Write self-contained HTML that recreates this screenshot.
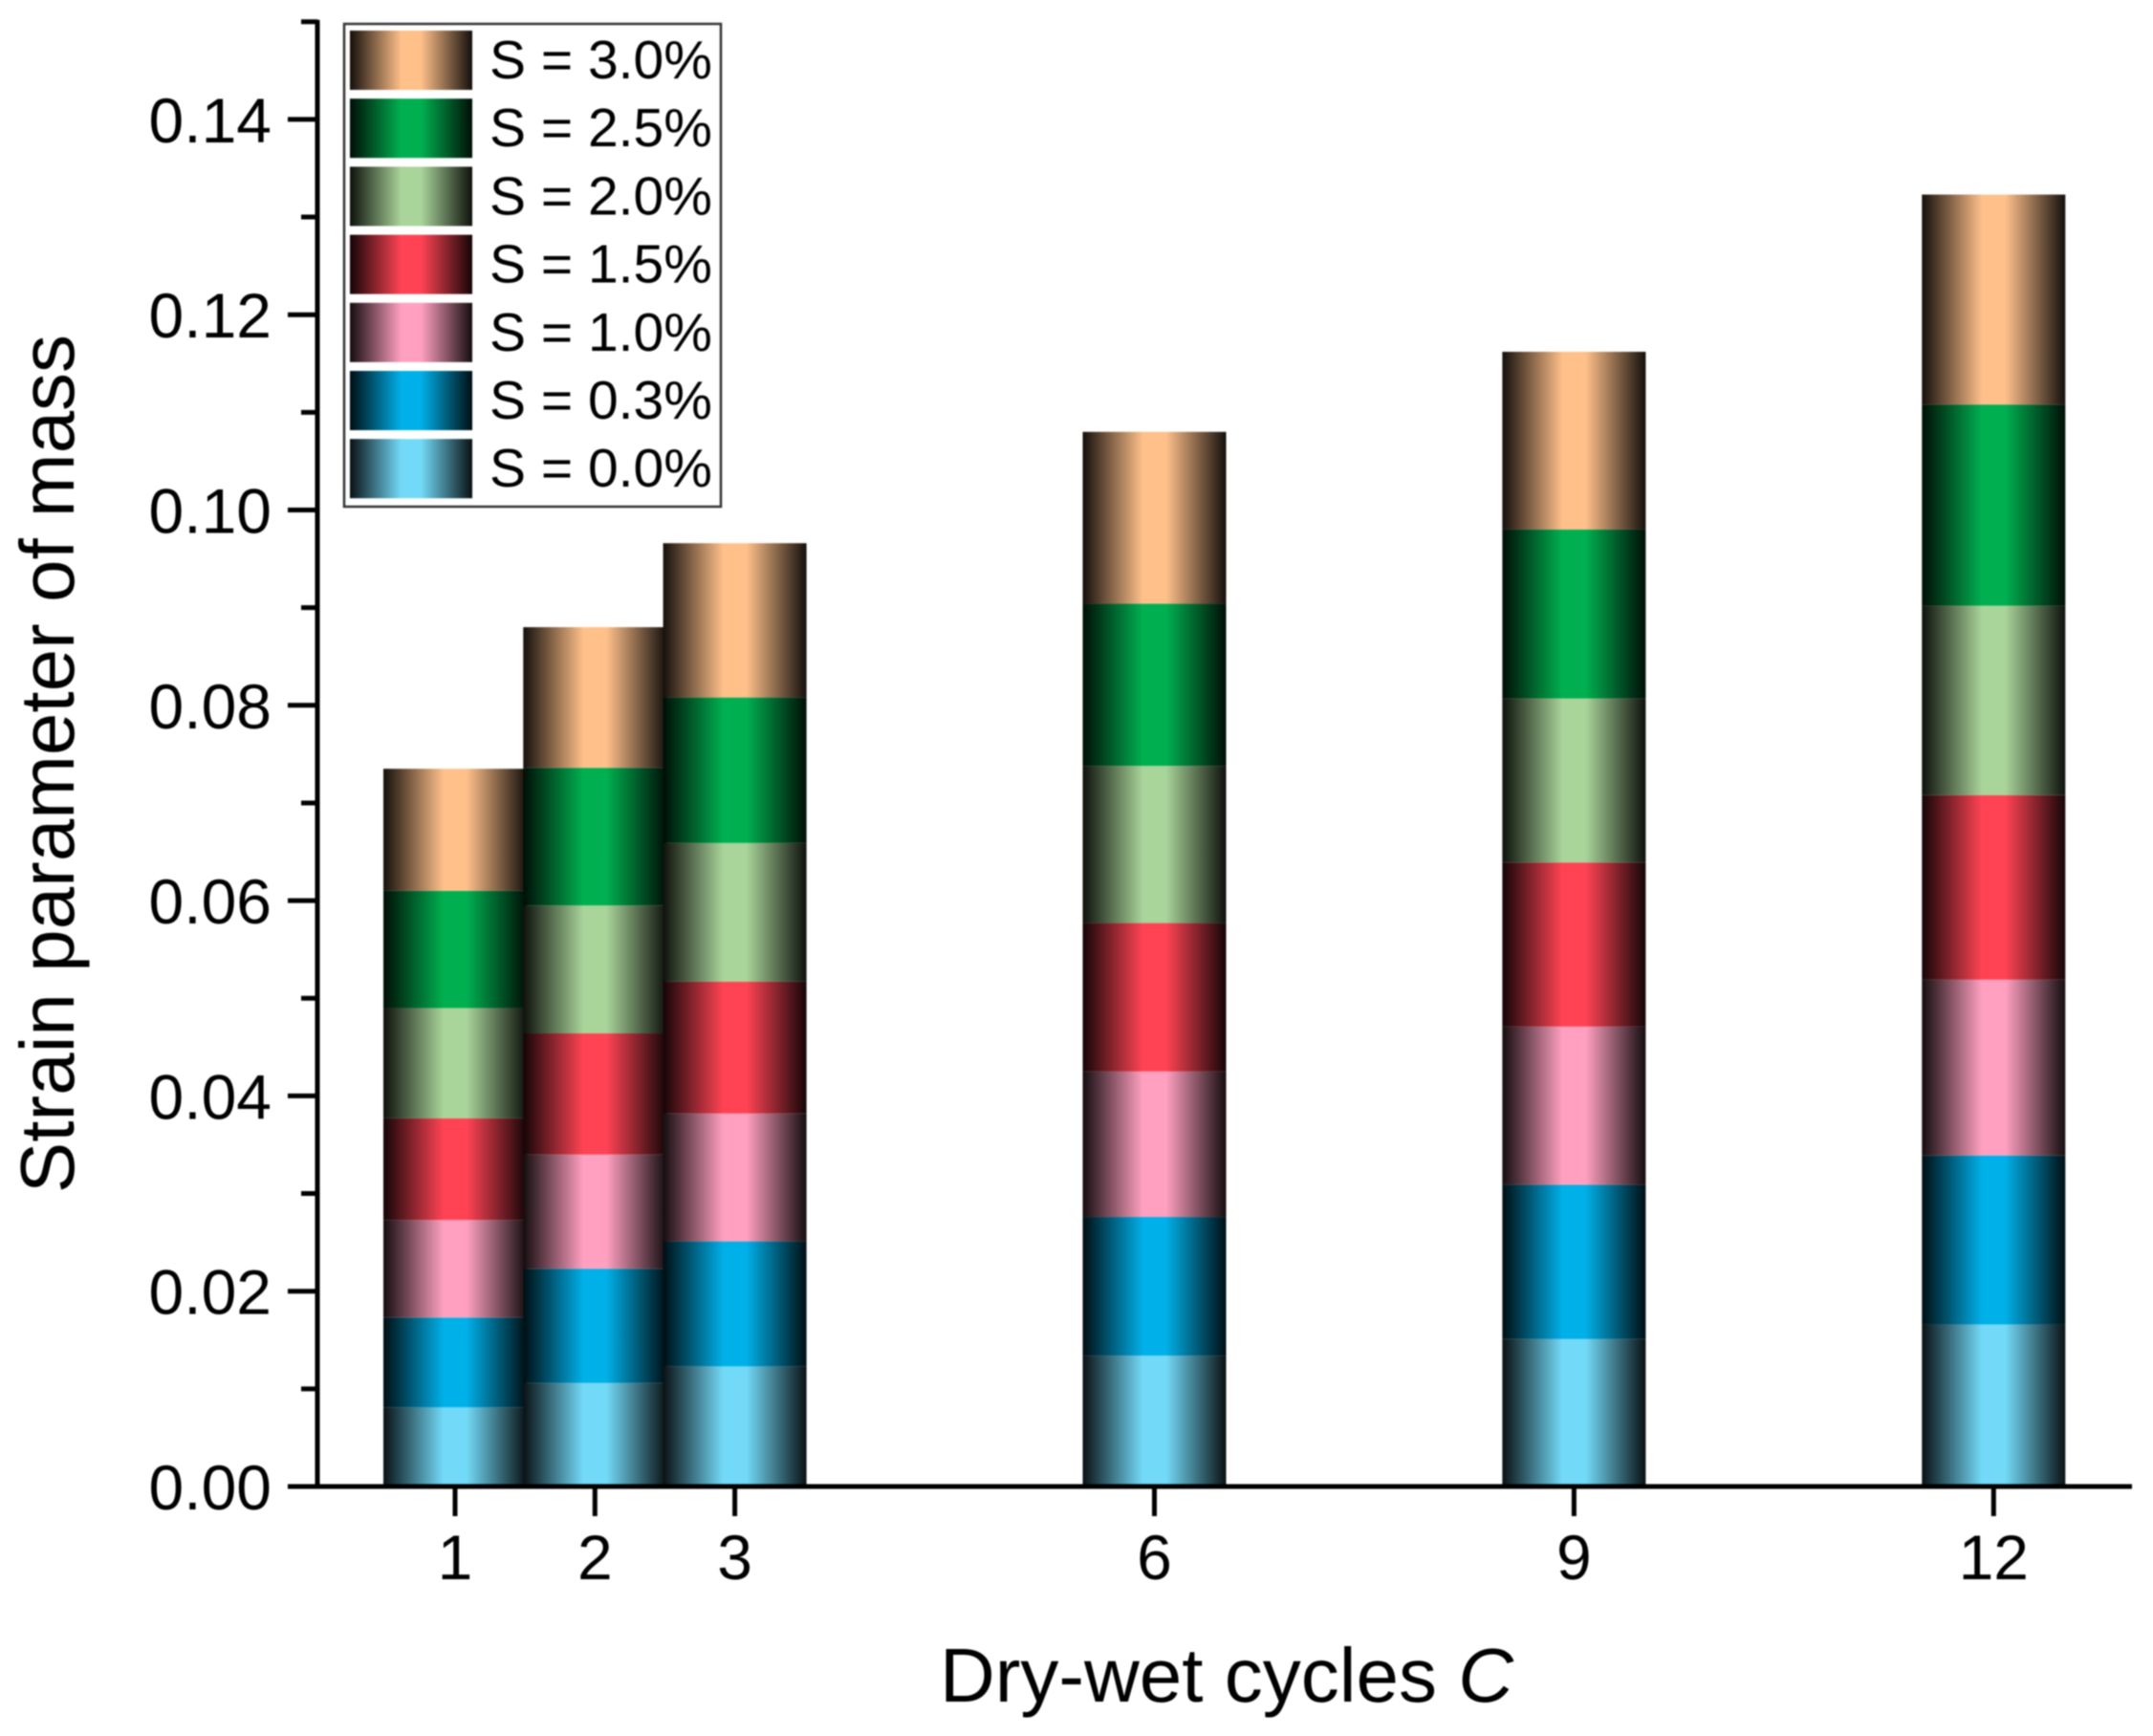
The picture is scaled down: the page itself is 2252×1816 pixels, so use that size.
<!DOCTYPE html>
<html lang="en">
<head>
<meta charset="utf-8">
<title>Strain parameter of mass vs dry-wet cycles</title>
<style>
html,body{margin:0;padding:0;background:#fff;width:2252px;height:1816px;overflow:hidden}
svg{display:block;filter:blur(0.8px)}
text{font-family:"Liberation Sans",sans-serif;fill:#000}
</style>
</head>
<body>
<svg id="chart" xmlns="http://www.w3.org/2000/svg" width="2252" height="1816" viewBox="0 0 2252 1816">
  <defs id="defs"></defs>
  <g id="bars"></g>
  <g id="axes"></g>
  <text transform="translate(77 799) rotate(-90)" text-anchor="middle" font-size="80">Strain parameter of mass</text>
  <text x="1283" y="1780" text-anchor="middle" font-size="80">Dry-wet cycles <tspan font-style="italic">C</tspan></text>
  <g id="legend"></g>
</svg>
<script>
const cycles = [1, 2, 3, 6, 9, 12];
const yTickLabels = ["0.00", "0.02", "0.04", "0.06", "0.08", "0.10", "0.12", "0.14"];
const seriesNames = ["S = 0.0%", "S = 0.3%", "S = 1.0%", "S = 1.5%", "S = 2.0%", "S = 2.5%", "S = 3.0%"];
const s00 = [0.0081, 0.0106, 0.0123, 0.0134, 0.0151, 0.0166];
const s03 = [0.0092, 0.0117, 0.0128, 0.0142, 0.0158, 0.0173];
const s10 = [0.0100, 0.0117, 0.0131, 0.0149, 0.0162, 0.0180];
const s15 = [0.0104, 0.0124, 0.0135, 0.0152, 0.0168, 0.0189];
const s20 = [0.0113, 0.0131, 0.0142, 0.0161, 0.0168, 0.0194];
const s25 = [0.0120, 0.0141, 0.0149, 0.0166, 0.0173, 0.0206];
const s30 = [0.0125, 0.0144, 0.0158, 0.0176, 0.0182, 0.0215];
const seriesValues = [s00, s03, s10, s15, s20, s25, s30];

const palette = [[114,218,248],[0,176,232],[255,160,192],[255,67,84],[169,212,154],[0,176,80],[255,192,138]];
const NS = "http://www.w3.org/2000/svg";
const xScale = c => 476 + (c - 1) * 146.3;
const yScale = v => 1555 - v * (204.3 / 0.02);
const barWidth = 150;

function make(tag, attrs, parent) {
  const el = document.createElementNS(NS, tag);
  for (const k in attrs) el.setAttribute(k, attrs[k]);
  parent.appendChild(el);
  return el;
}

const defs = document.getElementById("defs");
palette.forEach((col, i) => {
  const g = make("linearGradient", {id: "grad" + i, x1: 0, y1: 0, x2: 1, y2: 0}, defs);
  const dark = col.map(c => Math.round(c * 0.08)).join(",");
  const full = col.join(",");
  [[0, dark], [0.42, full], [0.58, full], [1, dark]].forEach(s => {
    make("stop", {offset: s[0], "stop-color": "rgb(" + s[1] + ")"}, g);
  });
});

const barsG = document.getElementById("bars");
cycles.forEach((c, ci) => {
  let base = 0;
  seriesValues.forEach((vals, si) => {
    const top = base + vals[ci];
    const r = make("rect", {
      x: xScale(c) - barWidth / 2,
      y: yScale(top),
      width: barWidth,
      height: yScale(base) - yScale(top),
      fill: "url(#grad" + si + ")"
    }, barsG);
    
    
    base = top;
  });
});

const axes = document.getElementById("axes");
const axisX = 332;
const yAxisLine = make("line", {x1: axisX, y1: yScale(0.15) - 2, x2: axisX, y2: yScale(0) + 2, stroke: "#000", "stroke-width": 5}, axes);


const xAxisLine = make("line", {x1: 301, y1: yScale(0), x2: 2230, y2: yScale(0), stroke: "#000", "stroke-width": 5}, axes);



yTickLabels.forEach(label => {
  const v = parseFloat(label);
  const y = yScale(v);
  const t = make("line", {x1: 301, y1: y, x2: axisX, y2: y, stroke: "#000", "stroke-width": 5}, axes);
  
  
  const l = make("text", {x: 284, y: y + 24, "text-anchor": "end", "font-size": 66}, axes);
  l.textContent = label;
  
  
  const my = yScale(v + 0.01);
  const m = make("line", {x1: 315, y1: my, x2: axisX, y2: my, stroke: "#000", "stroke-width": 5}, axes);
  
  
});

cycles.forEach(c => {
  const x = xScale(c);
  const t = make("line", {x1: x, y1: yScale(0), x2: x, y2: yScale(0) + 31, stroke: "#000", "stroke-width": 5}, axes);
  
  
  const l = make("text", {x: x, y: 1652, "text-anchor": "middle", "font-size": 66}, axes);
  l.textContent = String(c);
  
  
});

const legend = document.getElementById("legend");
const frame = make("rect", {x: 360, y: 25, width: 394, height: 505, fill: "#fff", stroke: "#333", "stroke-width": 2.5}, legend);


seriesNames.forEach((name, i) => {
  const row = seriesNames.length - 1 - i;
  const y = 32 + row * 71.2;
  const sw = make("rect", {x: 366, y: y, width: 128, height: 62, fill: "url(#grad" + i + ")"}, legend);
  
  
  const tx = make("text", {x: 512, y: y + 50, "font-size": 57}, legend);
  tx.textContent = name;
  
  
});
</script>
</body>
</html>
